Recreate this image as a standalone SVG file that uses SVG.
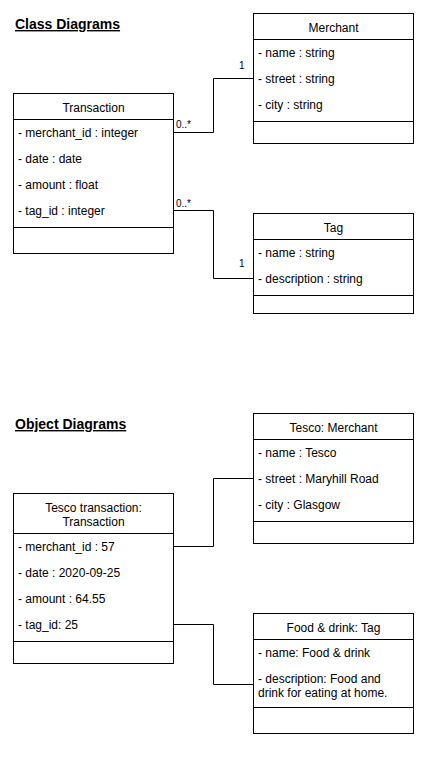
<svg xmlns="http://www.w3.org/2000/svg" width="441" height="761" viewBox="0 0 441 761">
<style>
text{font-family:"Liberation Sans",Arial,Helvetica,sans-serif;fill:#000}
.box{fill:#fff;stroke:#000;stroke-width:1}
.sep{stroke:#000;stroke-width:1;fill:none}
.h{font-size:12px;text-anchor:middle}
.a{font-size:12px}
.lbl{font-size:10px}
.title{font-size:14px;font-weight:bold;text-decoration:underline}
.edge{fill:none;stroke:#000;stroke-width:1}
</style>
<rect width="441" height="761" fill="#fff"/>
<text class="title" x="15" y="29">Class Diagrams</text>
<text class="title" x="15" y="429">Object Diagrams</text>

<g id="connectors">
<polyline class="edge" points="173.5,132.5 213.5,132.5 213.5,78.5 253.5,78.5"/>
<polyline class="edge" points="173.5,210.5 213.5,210.5 213.5,278.5 253.5,278.5"/>
<polyline class="edge" points="173.5,546.5 213.5,546.5 213.5,478.5 253.5,478.5"/>
<polyline class="edge" points="173.5,624.5 213.5,624.5 213.5,684.5 253.5,684.5"/>
<text class="lbl" x="176" y="128">0..*</text>
<text class="lbl" x="239" y="69">1</text>
<text class="lbl" x="176" y="207">0..*</text>
<text class="lbl" x="239" y="267">1</text>
</g>

<g id="merchant">
<rect class="box" x="253.5" y="13.5" width="160" height="130"/>
<line class="sep" x1="253.5" y1="39.5" x2="413.5" y2="39.5"/>
<line class="sep" x1="253.5" y1="121.5" x2="413.5" y2="121.5"/>
<text class="h" x="333.5" y="31.5">Merchant</text>
<text class="a" x="258" y="56.5">- name : string</text>
<text class="a" x="258" y="82.5">- street : string</text>
<text class="a" x="258" y="108.5">- city : string</text>
</g>

<g id="transaction">
<rect class="box" x="13.5" y="93.5" width="160" height="160"/>
<line class="sep" x1="13.5" y1="119.5" x2="173.5" y2="119.5"/>
<line class="sep" x1="13.5" y1="227.5" x2="173.5" y2="227.5"/>
<text class="h" x="93.5" y="111.5">Transaction</text>
<text class="a" x="18" y="136.5">- merchant_id : integer</text>
<text class="a" x="18" y="162.5">- date : date</text>
<text class="a" x="18" y="188.5">- amount : float</text>
<text class="a" x="18" y="214.5">- tag_id : integer</text>
</g>

<g id="tag">
<rect class="box" x="253.5" y="213.5" width="160" height="100"/>
<line class="sep" x1="253.5" y1="239.5" x2="413.5" y2="239.5"/>
<line class="sep" x1="253.5" y1="295.5" x2="413.5" y2="295.5"/>
<text class="h" x="333.5" y="231.5">Tag</text>
<text class="a" x="258" y="256.5">- name : string</text>
<text class="a" x="258" y="282.5">- description : string</text>
</g>

<g id="tesco-merchant">
<rect class="box" x="253.5" y="413.5" width="160" height="130"/>
<line class="sep" x1="253.5" y1="439.5" x2="413.5" y2="439.5"/>
<line class="sep" x1="253.5" y1="521.5" x2="413.5" y2="521.5"/>
<text class="h" x="333.5" y="431.5">Tesco: Merchant</text>
<text class="a" x="258" y="456.5">- name : Tesco</text>
<text class="a" x="258" y="482.5">- street : Maryhill Road</text>
<text class="a" x="258" y="508.5">- city : Glasgow</text>
</g>

<g id="tesco-transaction">
<rect class="box" x="13.5" y="493.5" width="160" height="170"/>
<line class="sep" x1="13.5" y1="533.5" x2="173.5" y2="533.5"/>
<line class="sep" x1="13.5" y1="641.5" x2="173.5" y2="641.5"/>
<text class="h" x="93.5" y="511.5">Tesco transaction:</text>
<text class="h" x="93.5" y="525.5">Transaction</text>
<text class="a" x="18" y="550.5">- merchant_id : 57</text>
<text class="a" x="18" y="576.5">- date : 2020-09-25</text>
<text class="a" x="18" y="602.5">- amount : 64.55</text>
<text class="a" x="18" y="628.5">- tag_id: 25</text>
</g>

<g id="food-tag">
<rect class="box" x="253.5" y="613.5" width="160" height="120"/>
<line class="sep" x1="253.5" y1="639.5" x2="413.5" y2="639.5"/>
<line class="sep" x1="253.5" y1="707.5" x2="413.5" y2="707.5"/>
<text class="h" x="333.5" y="631.5">Food &amp; drink: Tag</text>
<text class="a" x="258" y="656.5">- name: Food &amp; drink</text>
<text class="a" x="258" y="683">- description: Food and</text>
<text class="a" x="258" y="697">drink for eating at home.</text>
</g>
</svg>
